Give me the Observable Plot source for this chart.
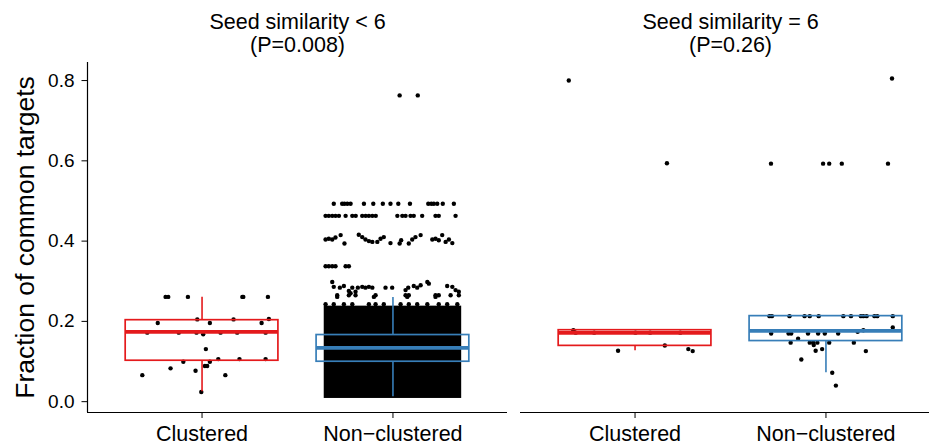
<!DOCTYPE html>
<html><head><meta charset="utf-8">
<script src="https://cdn.jsdelivr.net/npm/d3@7"></script>
<script src="https://cdn.jsdelivr.net/npm/@observablehq/plot@0.6"></script>
<style>html,body{margin:0;padding:0;overflow:hidden;background:#fff;} svg{display:block;max-width:none !important;}</style>
</head><body><div id="chart"></div>
<script>
// ---- data ----
const panels = ["lt6", "eq6"];
const panelTitles = ["Seed similarity < 6\n(P=0.008)", "Seed similarity = 6\n(P=0.26)"];
const categories = ["Clustered", "Non\u2212clustered"];
const categoryColors = ["#E41A1C", "#377EB8"];
const yTicks = [0, 0.2, 0.4, 0.6, 0.8];
const yLabel = "Fraction of common targets";

// box summaries (panel, category index 1/2)
const boxPanel = ["lt6", "lt6", "eq6", "eq6"];
const boxCat   = [1, 2, 1, 2];
const boxLo    = [0.025, 0.012, 0.127, 0.072];
const boxQ1    = [0.102, 0.0995, 0.139, 0.151];
const boxMed   = [0.174, 0.134, 0.1716, 0.1766];
const boxQ3    = [0.203, 0.166, 0.178, 0.2131];
const boxHi    = [0.260, 0.2596, 0.178, 0.2131];

// jittered points: horizontal jitter (category units) and value
const lt6ClustJit = [-0.191,-0.177,-0.074,0.211,0.216,0.345,-0.025,-0.232,0.041,0.165,0.312,0.350,0.006,0.020,-0.098,0.041,0.085,0.196,0.333,-0.165,-0.034,0.015,0.027,-0.313,0.122,-0.004,-0.287,-0.122,-0.029,0.097,0.184,0.333];
const lt6ClustVal = [0.261,0.261,0.261,0.261,0.261,0.261,0.205,0.196,0.196,0.205,0.196,0.206,0.168,0.131,0.0995,0.0995,0.106,0.106,0.106,0.083,0.077,0.089,0.089,0.066,0.066,0.024,0.172,0.172,0.172,0.172,0.172,0.172];

const lt6NonJit = [
  0.035,0.130,
  -0.310,-0.266,-0.254,-0.239,-0.222,-0.152,-0.103,-0.053,-0.013,0.028,0.089,0.185,0.201,0.214,0.232,0.261,0.319,
  -0.353,-0.336,-0.318,-0.301,-0.283,-0.248,-0.213,-0.195,-0.161,-0.143,-0.126,-0.108,-0.090,0.023,0.049,0.066,0.092,0.109,0.153,0.223,0.240,0.328,
  -0.353,-0.336,-0.318,-0.301,-0.274,-0.254,-0.179,-0.161,-0.144,-0.126,-0.108,-0.082,-0.065,-0.048,-0.013,0.035,0.043,0.083,0.101,0.118,0.145,0.206,0.223,0.240,0.258,0.276,0.293,0.311,
  -0.353,-0.336,-0.318,-0.301,-0.248,-0.231,
  -0.318,-0.310,-0.278,-0.257,-0.231,-0.213,-0.184,-0.161,-0.144,-0.126,-0.108,-0.039,-0.004,0.066,0.080,0.109,0.127,0.145,0.180,0.188,0.284,0.311,0.328,0.345,-0.292,-0.222,-0.196,-0.100,0.075,0.223,
  -0.292,-0.231,-0.196,-0.091,0.066,0.083,0.223,0.240,0.302,0.345,
  -0.353,-0.310,-0.257,-0.213,-0.126,-0.091,-0.048,0.040,0.083,0.127,0.180,0.240,0.284,0.337
];
const lt6NonVal = [
  0.763,0.763,
  0.493,0.493,0.493,0.493,0.493,0.493,0.493,0.493,0.493,0.493,0.493,0.493,0.493,0.493,0.493,0.493,0.493,
  0.463,0.463,0.463,0.463,0.463,0.463,0.463,0.463,0.463,0.463,0.463,0.463,0.463,0.463,0.463,0.463,0.463,0.463,0.463,0.463,0.463,0.463,
  0.404,0.406,0.404,0.409,0.415,0.394,0.416,0.410,0.404,0.400,0.398,0.398,0.406,0.410,0.395,0.394,0.402,0.394,0.404,0.410,0.415,0.404,0.406,0.402,0.415,0.398,0.404,0.395,
  0.3375,0.3375,0.3375,0.3375,0.3375,0.3375,
  0.298,0.286,0.284,0.288,0.276,0.284,0.284,0.286,0.284,0.286,0.284,0.284,0.284,0.278,0.284,0.288,0.284,0.290,0.298,0.294,0.288,0.286,0.278,0.274,0.261,0.270,0.274,0.261,0.261,0.261,
  0.265,0.265,0.265,0.265,0.265,0.265,0.265,0.265,0.265,0.265,
  0.243,0.243,0.243,0.243,0.243,0.243,0.243,0.243,0.243,0.243,0.243,0.243,0.243,0.243
];
// dense core of the Non-clustered cloud (thousands of overlapping points)
const denseJit = [-0.36, 0.36];
const denseVal = [0.008, 0.238];

const eq6ClustJit = [-0.347,0.167,-0.323,-0.089,0.156,0.279,0.302,-0.311,-0.214,0.002,0.079,0.237];
const eq6ClustVal = [0.800,0.594,0.178,0.127,0.140,0.131,0.126,0.172,0.172,0.172,0.172,0.172];

const eq6NonJit = [0.346,-0.288,-0.015,0.017,0.083,0.325,
  -0.296,-0.283,-0.191,-0.112,-0.085,-0.038,0.091,0.131,0.183,0.196,0.213,0.254,0.269,0.350,
  0.350,0.166,0.196,
  -0.287,-0.196,-0.182,-0.094,-0.041,-0.006,0.064,
  -0.146,-0.185,-0.085,-0.067,-0.045,0.017,0.146,
  -0.064,-0.020,-0.054,0.209,-0.129,0.033,0.052];
const eq6NonVal = [0.805,0.593,0.593,0.593,0.593,0.593,
  0.213,0.213,0.213,0.213,0.213,0.213,0.213,0.213,0.213,0.213,0.213,0.213,0.213,0.213,
  0.185,0.174,0.178,
  0.170,0.170,0.170,0.170,0.170,0.170,0.170,
  0.157,0.147,0.147,0.147,0.147,0.147,0.147,
  0.141,0.131,0.127,0.126,0.105,0.072,0.040];

// ---- build tables ----
const boxes = boxPanel.map((p, i) => ({fx: p, cat: boxCat[i], lo: boxLo[i], q1: boxQ1[i], med: boxMed[i], q3: boxQ3[i], hi: boxHi[i], color: categoryColors[boxCat[i] - 1]}));
function pts(panel, cat, jit, val) { return jit.map((j, i) => ({fx: panel, x: cat + j, y: val[i]})); }
const points = [
  ...pts("lt6", 1, lt6ClustJit, lt6ClustVal),
  ...pts("lt6", 2, lt6NonJit, lt6NonVal),
  ...pts("eq6", 1, eq6ClustJit, eq6ClustVal),
  ...pts("eq6", 2, eq6NonJit, eq6NonVal)
];
const dense = [{fx: "lt6", x1: 2 + denseJit[0], x2: 2 + denseJit[1], y1: denseVal[0], y2: denseVal[1]}];
const yMin = -0.027, yMax = 0.845;

const chart = Plot.plot({
  width: 940, height: 448,
  marginLeft: 87, marginRight: 0, marginTop: 62, marginBottom: 36,
  style: {fontFamily: "'Liberation Sans', Arial, Helvetica, sans-serif", color: "black", background: "white"},
  fx: {domain: panels, paddingInner: 13 / 433, paddingOuter: 0, label: null},
  x: {domain: [0.4, 2.6], label: null},
  y: {domain: [yMin, yMax], label: null},
  color: {type: "identity"},
  marks: [
    Plot.rect(dense, {fx: "fx", x1: "x1", x2: "x2", y1: "y1", y2: "y2", fill: "black"}),
    Plot.dot(points, {fx: "fx", x: "x", y: "y", r: 2.2, fill: "black", stroke: "none"}),
    Plot.ruleX(boxes, {fx: "fx", x: "cat", y1: "q3", y2: "hi", stroke: "color", strokeWidth: 1.6}),
    Plot.ruleX(boxes, {fx: "fx", x: "cat", y1: "lo", y2: "q1", stroke: "color", strokeWidth: 1.6}),
    Plot.rect(boxes, {fx: "fx", x1: d => d.cat - 0.4, x2: d => d.cat + 0.4, y1: "q1", y2: "q3", fill: "none", stroke: "color", strokeWidth: 1.7}),
    Plot.ruleY(boxes, {fx: "fx", y: "med", x1: d => d.cat - 0.4, x2: d => d.cat + 0.4, stroke: "color", strokeWidth: 3.8}),
    Plot.ruleY([yMin], {stroke: "black", strokeWidth: 1.2}),
    Plot.ruleX([{fx: "lt6"}], {fx: "fx", x: () => 0.4, stroke: "black", strokeWidth: 1.2}),
    Plot.axisY({ticks: yTicks, tickFormat: d3.format(".1f"), tickSize: 5.5, tickPadding: 7.5, fontSize: 19, label: null, stroke: "black"}),
    Plot.axisX({ticks: [1, 2], tickFormat: d => categories[d - 1], tickSize: 6, tickPadding: 7, fontSize: 21.5, label: null, stroke: "black"}),
    Plot.axisFx({anchor: "top", tickSize: 0, tickPadding: 11, fontSize: 21.5, lineHeight: 1.05, label: null, tickFormat: d => panelTitles[panels.indexOf(d)]}),
    Plot.text([{fx: "lt6"}], {fx: "fx", frameAnchor: "left", textAnchor: "middle", lineAnchor: "middle", text: () => yLabel, rotate: -90, dx: -62, fontSize: 26.5, fill: "black"})
  ]
});
document.getElementById("chart").appendChild(chart);
</script>
</body></html>
